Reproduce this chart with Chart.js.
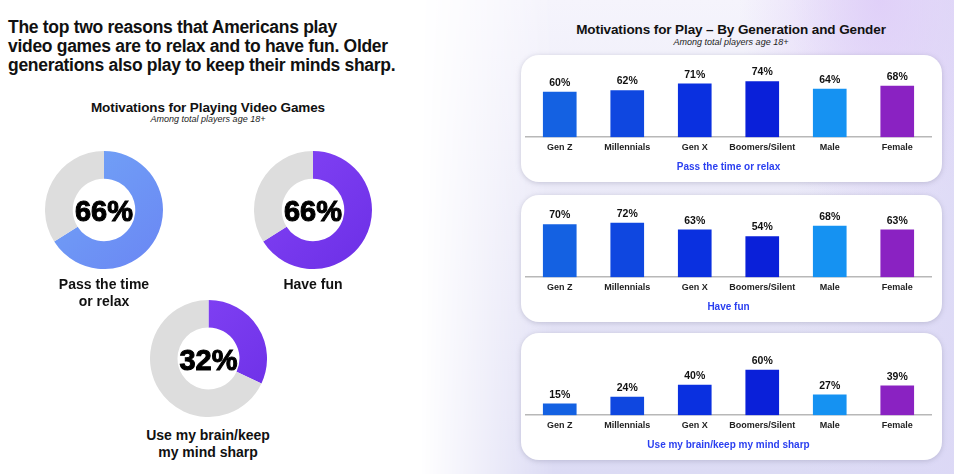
<!DOCTYPE html>
<html>
<head>
<meta charset="utf-8">
<script src="https://cdn.jsdelivr.net/npm/chart.js@4.4.0/dist/chart.umd.min.js"></script>
<style>
  html, body { margin: 0; padding: 0; }
  body { width: 954px; height: 474px; position: relative; overflow: hidden; background: #fff;
         font-family: "Liberation Sans", Arial, sans-serif; color: #111; }
  .abs { position: absolute; }
  #bg { left: 420px; top: 0; width: 534px; height: 474px;
        background:
          radial-gradient(ellipse 140px 220px at 86% 0%, rgba(222,204,248,0.85), rgba(222,204,248,0) 100%),
          linear-gradient(90deg, rgba(220,216,246,0) 70%, rgba(220,216,246,0.8) 100%),
          linear-gradient(180deg, #f5f4fc 0%, #e8e7f7 50%, #dcdbf4 100%);
        -webkit-mask-image: linear-gradient(to right, transparent 0, #000 25%);
        mask-image: linear-gradient(to right, transparent 0, #000 25%); }
  #headline { left: 8px; top: 18px; font-size: 17.5px; line-height: 19px; font-weight: bold; letter-spacing: -0.3px; }
  .title { font-size: 13.5px; line-height: 15px; font-weight: bold; text-align: center; letter-spacing: -0.1px; }
  .sub { font-size: 9px; line-height: 11px; font-style: italic; text-align: center; color: #222; }
  .dlabel { font-size: 14px; line-height: 17px; font-weight: bold; text-align: center; }
  .panel { width: 421px; height: 127px; left: 521px; background: #fff; border-radius: 18px;
           box-shadow: 0 1px 5px rgba(120,120,150,0.35); }
  .panel canvas { position: absolute; left: 0; top: 0; }
</style>
</head>
<body>
<div id="bg" class="abs"></div>

<div id="headline" class="abs">The top two reasons that Americans play<br>video games are to relax and to have fun. Older<br>generations also play to keep their minds sharp.</div>

<div class="abs title" style="left:58px; top:100px; width:300px;">Motivations for Playing Video Games</div>
<div class="abs sub" style="left:58px; top:114px; width:300px;">Among total players age 18+</div>

<canvas id="donut0" class="abs" width="118" height="118" style="left:45px; top:151px;"></canvas>
<canvas id="donut1" class="abs" width="118" height="118" style="left:254px; top:151px;"></canvas>
<canvas id="donut2" class="abs" width="117" height="117" style="left:150px; top:300px;"></canvas>

<div id="dl0" class="abs dlabel" style="left:24px; top:276px; width:160px;"></div>
<div id="dl1" class="abs dlabel" style="left:233px; top:276px; width:160px;"></div>
<div id="dl2" class="abs dlabel" style="left:118px; top:427px; width:180px;"></div>

<div class="abs title" style="left:571px; top:22px; width:320px;">Motivations for Play – By Generation and Gender</div>
<div class="abs sub" style="left:571px; top:37px; width:320px;">Among total players age 18+</div>

<div class="abs panel" style="top:55px;"><canvas id="bars0" width="421" height="127"></canvas></div>
<div class="abs panel" style="top:195px;"><canvas id="bars1" width="421" height="127"></canvas></div>
<div class="abs panel" style="top:333px;"><canvas id="bars2" width="421" height="127"></canvas></div>

<script>
// Datos
const motivations = ['Pass the time or relax', 'Have fun', 'Use my brain/keep my mind sharp'];
const motivationLines = [['Pass the time', 'or relax'], ['Have fun'], ['Use my brain/keep', 'my mind sharp']];
const totalShare = [66, 66, 32];

const groups = ['Gen Z', 'Millennials', 'Gen X', 'Boomers/Silent', 'Male', 'Female'];
const relaxByGroup = [60, 62, 71, 74, 64, 68];
const funByGroup = [70, 72, 63, 54, 68, 63];
const brainByGroup = [15, 24, 40, 60, 27, 39];

// Colores
const barColors = ['#1461e2', '#0f47e0', '#0a30e0', '#0a20d9', '#1592f2', '#8a22c2'];
const donutColors = [['#72a6f6', '#6a86f4'], ['#8444f6', '#6c2fe6'], ['#8444f6', '#6c2fe6']];

document.addEventListener('DOMContentLoaded', function () {
    // Texto en el centro de las donas
    const centerText = {
        id: 'centerText',
        afterDraw(chart) {
            const arc = chart.getDatasetMeta(0).data[0];
            const ctx = chart.ctx;
            ctx.save();
            ctx.font = 'bold 29px "Liberation Sans", Arial, sans-serif';
            ctx.fillStyle = '#000';
            ctx.strokeStyle = '#000';
            ctx.lineWidth = 1;
            ctx.textAlign = 'center';
            ctx.textBaseline = 'middle';
            const txt = chart.data.datasets[0].data[0] + '%';
            ctx.fillText(txt, arc.x, arc.y + 3);
            ctx.strokeText(txt, arc.x, arc.y + 3);
            ctx.restore();
        }
    };

    // Creación de las donas
    totalShare.forEach(function (v, i) {
        document.getElementById('dl' + i).innerHTML = motivationLines[i].join('<br>');
        let ctx = document.getElementById('donut' + i).getContext('2d');
        new Chart(ctx, {
            type: 'doughnut',
            data: {
                labels: [motivations[i], 'Other'],
                datasets: [{
                    data: [v, 100 - v],
                    backgroundColor: function (c) {
                        if (c.dataIndex === 1) return '#dddddd';
                        const area = c.chart.chartArea;
                        if (!area) return donutColors[i][0];
                        const g = c.chart.ctx.createLinearGradient(area.left, area.top, area.right, area.bottom);
                        g.addColorStop(0, donutColors[i][0]);
                        g.addColorStop(1, donutColors[i][1]);
                        return g;
                    },
                    borderWidth: 0
                }]
            },
            options: {
                responsive: false,
                animation: false,
                cutout: '53%',
                layout: { padding: 0 },
                plugins: { legend: { display: false }, tooltip: { enabled: false } }
            },
            plugins: [centerText]
        });
    });

    // Etiquetas de valor sobre las barras
    const valueLabels = {
        id: 'valueLabels',
        afterDatasetsDraw(chart) {
            const ctx = chart.ctx;
            const ds = chart.data.datasets[0];
            ctx.save();
            ctx.font = 'bold 10.5px "Liberation Sans", Arial, sans-serif';
            ctx.fillStyle = '#111';
            ctx.textAlign = 'center';
            ctx.textBaseline = 'middle';
            chart.getDatasetMeta(0).data.forEach(function (bar, j) {
                ctx.fillText(ds.data[j] + '%', bar.x, bar.y - 9);
            });
            ctx.restore();
        }
    };

    // Creación de gráficos de barras
    function barChart(id, values, title) {
        let ctx = document.getElementById(id).getContext('2d');
        return new Chart(ctx, {
            type: 'bar',
            data: {
                labels: groups,
                datasets: [{
                    label: title,
                    data: values,
                    backgroundColor: barColors,
                    barThickness: 33
                }]
            },
            options: {
                responsive: false,
                animation: false,
                layout: { padding: { left: 5, right: 11, top: 7, bottom: 9 } },
                plugins: { legend: { display: false }, tooltip: { enabled: false } },
                scales: {
                    x: {
                        grid: { display: false, drawTicks: false },
                        border: { display: true, color: '#b8b8b8', width: 1.5 },
                        ticks: {
                            padding: 5,
                            autoSkip: false,
                            maxRotation: 0,
                            minRotation: 0,
                            color: '#222',
                            font: { family: '"Liberation Sans", Arial, sans-serif', size: 9, weight: 'bold' }
                        },
                        title: {
                            display: true,
                            text: title,
                            color: '#2a3ff0',
                            font: { family: '"Liberation Sans", Arial, sans-serif', size: 10, weight: 'bold' },
                            padding: { top: 3, bottom: 0 }
                        }
                    },
                    y: { display: false, min: 0, max: 100 }
                }
            },
            plugins: [valueLabels]
        });
    }

    barChart('bars0', relaxByGroup, motivations[0]);
    barChart('bars1', funByGroup, motivations[1]);
    barChart('bars2', brainByGroup, motivations[2]);
});
</script>
</body>
</html>
